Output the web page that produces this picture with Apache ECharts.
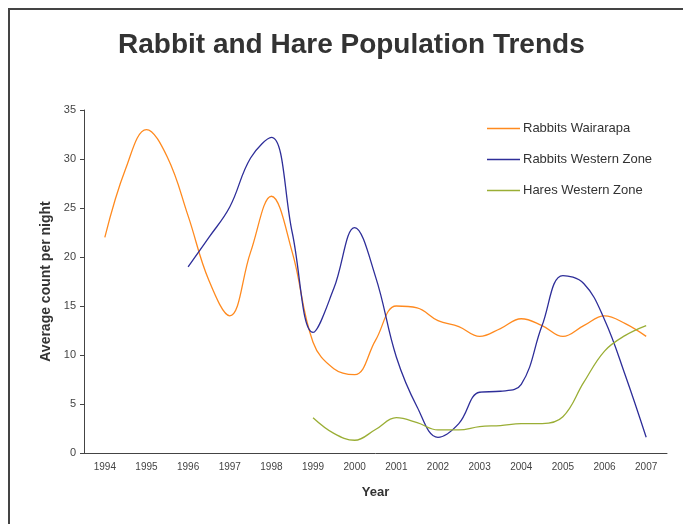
<!DOCTYPE html>
<html>
<head>
<meta charset="utf-8">
<script src="https://cdn.jsdelivr.net/npm/echarts@6/dist/echarts.min.js"></script>
<style>html,body{margin:0;padding:0;background:#fff}#c{width:683px;height:524px}</style>
</head>
<body>
<div id="c"></div>
<script>
var years = ['1994','1995','1996','1997','1998','1999','2000','2001','2002','2003','2004','2005','2006','2007'];
var yTicks = [0,5,10,15,20,25,30,35];

var wairarapaT = [1994,1994.5,1995,1995.5,1996,1996.5,1997,1997.5,1998,1998.5,1999,1999.5,2000,2000.5,2001,2001.5,2002,2002.5,2003,2003.5,2004,2004.5,2005,2005.5,2006,2006.5,2007];
var wairarapaV = [22,29,33,30.2,24.2,17.6,14.0,20.5,26.2,20.5,11.3,8.6,8.0,11.5,15.0,14.8,13.5,12.9,11.9,12.7,13.7,13.0,11.9,13.0,14.0,13.2,11.9];

var westernT = [1996,1996.5,1997,1997.5,1998,1998.5,1999,1999.5,2000,2000.5,2001,2001.5,2002,2002.5,2003,2003.5,2004,2004.5,2005,2005.5,2006,2006.5,2007];
var westernV = [19.0,22.0,25.1,30.1,32.2,22.5,12.3,16.8,23.0,18.0,9.8,4.7,1.6,3.0,6.2,6.3,7.0,13.0,18.1,17.3,13.6,7.9,1.6];

var haresT = [1999,1999.5,2000,2000.5,2001,2001.5,2002,2002.5,2003,2003.5,2004,2004.5,2005,2005.5,2006,2006.5,2007];
var haresV = [3.6,2.0,1.3,2.4,3.6,3.1,2.35,2.35,2.7,2.8,3.0,3.0,3.7,7.2,10.4,12.0,13.0];

function pairs(t, v){ return t.map(function(x,i){ return [x, v[i]]; }); }

var chart = echarts.init(document.getElementById('c'));
var axisCol = '#444';
var font = 'Liberation Sans';
chart.setOption({
  animation: false,
  backgroundColor: '#fff',
  title: {
    text: 'Rabbit and Hare Population Trends',
    left: 113, top: 26,
    textStyle: {fontFamily: font, fontSize: 28, fontWeight: 'bold', color: '#333'}
  },
  graphic: [
    {type: 'polyline', shape: {points: [[9,524],[9,9],[683,9]]}, style: {stroke: '#444', lineWidth: 2, fill: null}, silent: true}
  ],
  legend: {
    orient: 'vertical', left: 482, top: 117, icon: 'rect', itemWidth: 33, itemHeight: 1.3, itemGap: 18,
    textStyle: {fontFamily: font, fontSize: 13, color: '#333', padding: [0,0,0,-2]},
    data: ['Rabbits Wairarapa','Rabbits Western Zone','Hares Western Zone']
  },
  grid: {left: 84, top: 110, right: 16, bottom: 71, containLabel: false},
  xAxis: [
    {
      type: 'category', data: years, boundaryGap: true,
      name: 'Year', nameLocation: 'middle', nameGap: 33,
      nameTextStyle: {fontFamily: font, fontSize: 13, fontWeight: 'bold', color: '#333'},
      axisLine: {lineStyle: {color: axisCol, width: 1}},
      axisTick: {alignWithLabel: false, length: 4, lineStyle: {color: axisCol}},
      axisLabel: {fontFamily: font, fontSize: 10, color: '#444', margin: 9},
      splitLine: {show: false}
    },
    {
      type: 'value', min: 1993.5, max: 2007.5, show: false, splitLine: {show: false}
    }
  ],
  yAxis: {
    type: 'value', min: 0, max: 35, interval: 5,
    name: 'Average count per night', nameLocation: 'middle', nameGap: 25,
    nameTextStyle: {fontFamily: font, fontSize: 14, fontWeight: 'bold', color: '#333'},
    axisLine: {show: true, lineStyle: {color: axisCol, width: 1}},
    axisTick: {show: true, length: 4, lineStyle: {color: axisCol}},
    axisLabel: {fontFamily: font, fontSize: 11, color: '#444', margin: 8,
      formatter: function(v){ return yTicks.indexOf(v) >= 0 ? String(v) : ''; }},
    splitLine: {show: false}
  },
  series: [
    {name: 'Rabbits Wairarapa', type: 'line', xAxisIndex: 1, data: pairs(wairarapaT, wairarapaV), smooth: 0.4, symbol: 'none', lineStyle: {color: '#FF8A1F', width: 1.3}, itemStyle: {color: '#FF8A1F'}},
    {name: 'Rabbits Western Zone', type: 'line', xAxisIndex: 1, data: pairs(westernT, westernV), smooth: 0.4, symbol: 'none', lineStyle: {color: '#2E2E99', width: 1.3}, itemStyle: {color: '#2E2E99'}},
    {name: 'Hares Western Zone', type: 'line', xAxisIndex: 1, data: pairs(haresT, haresV), smooth: 0.4, symbol: 'none', lineStyle: {color: '#9AAE35', width: 1.3}, itemStyle: {color: '#9AAE35'}}
  ]
});
</script>
</body>
</html>
